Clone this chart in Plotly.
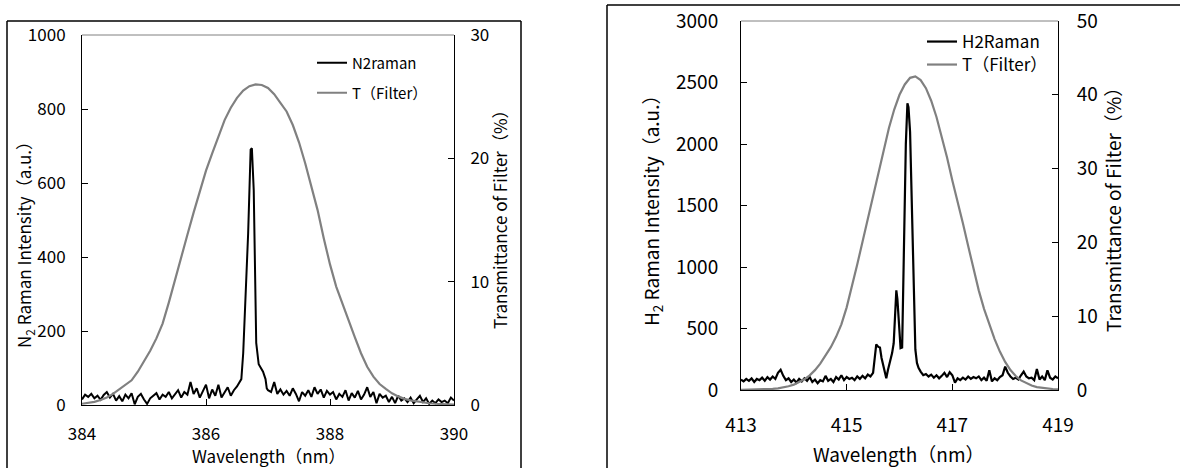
import plotly.graph_objects as go

# ---------------- data: left panel (N2) ----------------
n2_wl = [384.00, 384.05, 384.10, 384.15, 384.20, 384.25, 384.30, 384.35, 384.40, 384.45,
         384.50, 384.55, 384.60, 384.65, 384.70, 384.75, 384.80, 384.85, 384.90, 384.95,
         385.00, 385.05, 385.10, 385.15, 385.20, 385.25, 385.30, 385.35, 385.40, 385.45,
         385.50, 385.55, 385.60, 385.65, 385.70, 385.75, 385.80, 385.85, 385.90, 385.95,
         386.00, 386.05, 386.10, 386.15, 386.20, 386.25, 386.30, 386.35, 386.40, 386.45,
         386.50, 386.54, 386.57, 386.60, 386.64, 386.68, 386.72, 386.74, 386.77, 386.79,
         386.81, 386.85, 386.92, 386.96, 386.98,
         387.00, 387.05, 387.10, 387.15, 387.20, 387.25, 387.30, 387.35, 387.40, 387.45,
         387.50, 387.55, 387.60, 387.65, 387.70, 387.75, 387.80, 387.85, 387.90, 387.95,
         388.00, 388.05, 388.10, 388.15, 388.20, 388.25, 388.30, 388.35, 388.40, 388.45,
         388.50, 388.55, 388.60, 388.65, 388.70, 388.75, 388.80, 388.85, 388.90, 388.95,
         389.00, 389.05, 389.10, 389.15, 389.20, 389.25, 389.30, 389.35, 389.40, 389.45,
         389.50, 389.55, 389.60, 389.65, 389.70, 389.75, 389.80, 389.85, 389.90, 389.95,
         390.00]
n2_int = [15, 28, 22, 30, 18, 25, 14, 27, 35, 20,
          30, 12, 24, 10, 28, 18, 32, 2, 22, 30,
          15, 3, 18, 25, 32, 15, 28, 22, 35, 18,
          30, 40, 20, 35, 28, 62, 30, 45, 20, 38,
          55, 18, 42, 25, 55, 20, 35, 48, 25, 40,
          50, 60, 70, 140, 285, 465, 690, 694, 580, 350,
          168, 110, 90, 70, 45,
          40, 35, 62, 30, 42, 28, 38, 25, 45, 30,
          10, 35, 25, 40, 22, 48, 30, 42, 20, 38,
          28, 35, 15, 30, 22, 40, 12, 32, 20, 38,
          15, 28, 48, 22, 35, 5, 30, 20, 25, 8,
          22, 5, 25, 12, 18, 8, 20, 5, 15, 25,
          8, 18, 3, 12, 5, 15, 8, 12, 5, 20,
          12]

t1_wl = [384.0, 384.1, 384.2, 384.3, 384.4, 384.5, 384.6, 384.7, 384.8, 384.9,
         385.0, 385.1, 385.2, 385.3, 385.4, 385.5, 385.6, 385.7, 385.8, 385.9,
         386.0, 386.1, 386.2, 386.3, 386.4, 386.5, 386.6, 386.7, 386.8, 386.9,
         387.0, 387.1, 387.2, 387.3, 387.4, 387.5, 387.6, 387.7, 387.8, 387.9,
         388.0, 388.1, 388.2, 388.3, 388.4, 388.5, 388.6, 388.7, 388.8, 388.9,
         389.0, 389.1, 389.2, 389.3, 389.4, 389.5, 389.6, 389.7, 389.8, 389.9,
         390.0]
t1_pct = [0.1, 0.15, 0.25, 0.4, 0.6, 0.9, 1.25, 1.6, 2.0, 2.7,
          3.5, 4.4, 5.4, 6.6, 8.3, 10.2, 12.0, 13.8, 15.6, 17.3,
          19.0, 20.4, 21.8, 23.1, 24.1, 24.9, 25.5, 25.85, 26.0, 25.95,
          25.7, 25.2, 24.5, 23.8, 22.7, 21.3, 19.6, 17.7, 15.8, 13.5,
          11.4, 9.6, 8.2, 6.9, 5.5, 4.2, 3.1, 2.3, 1.7, 1.3,
          0.95, 0.7, 0.5, 0.38, 0.28, 0.2, 0.14, 0.1, 0.07, 0.05,
          0.03]

# ---------------- data: right panel (H2) ----------------
h2_wl = [413.00, 413.05, 413.10, 413.15, 413.20, 413.25, 413.30, 413.35, 413.40, 413.45,
         413.50, 413.55, 413.60, 413.65, 413.70, 413.75, 413.80, 413.85, 413.90, 413.95,
         414.00, 414.05, 414.10, 414.15, 414.20, 414.25, 414.30, 414.35, 414.40, 414.45,
         414.50, 414.55, 414.60, 414.65, 414.70, 414.75, 414.80, 414.85, 414.90, 414.95,
         415.00, 415.05, 415.10, 415.15, 415.20, 415.25, 415.30, 415.35, 415.40, 415.45,
         415.50, 415.53, 415.56, 415.60, 415.63, 415.66, 415.69, 415.72, 415.75, 415.78,
         415.82, 415.86, 415.89, 415.92, 415.94, 415.96, 415.99, 416.02, 416.05, 416.08,
         416.10, 416.12, 416.15, 416.17, 416.20, 416.23, 416.26, 416.30, 416.33, 416.36,
         416.40, 416.45,
         416.50, 416.55, 416.60, 416.65, 416.70, 416.75, 416.80, 416.85, 416.90, 416.95,
         417.00, 417.05, 417.10, 417.15, 417.20, 417.25, 417.30, 417.35, 417.40, 417.45,
         417.50, 417.55, 417.60, 417.65, 417.70, 417.75, 417.80, 417.85, 417.90, 417.95,
         418.00, 418.05, 418.10, 418.15, 418.20, 418.25, 418.30, 418.35, 418.40, 418.45,
         418.50, 418.55, 418.60, 418.65, 418.70, 418.75, 418.80, 418.85, 418.90, 418.95,
         419.00]
h2_int = [85, 70, 90, 75, 95, 65, 90, 80, 100, 75,
          105, 85, 110, 90, 140, 165, 115, 80, 95, 65,
          85, 60, 90, 70, 95, 75, 105, 65, 85, 55,
          80, 70, 115, 75, 90, 65, 105, 85, 120, 80,
          105, 90, 100, 80, 110, 90, 115, 95, 125, 110,
          140, 250, 370, 350, 345, 260, 200, 150, 95, 160,
          230, 300, 380, 620, 810, 740, 560, 340, 345, 1100,
          1850, 2000, 2330, 2300, 2100, 1500, 950, 330, 220, 180,
          150, 120,
          130, 110, 125, 100, 120, 95, 115, 140, 105, 145,
          120, 60, 95, 80, 100, 85, 110, 90, 105, 95,
          110, 80, 100, 75, 160, 70, 95, 80, 105, 120,
          190, 140, 110, 90, 100, 85, 120, 150, 110, 95,
          100, 80, 170, 85, 110, 80, 160, 100, 85, 110,
          95]

t2_wl = [413.0, 413.1, 413.2, 413.3, 413.4, 413.5, 413.6, 413.7, 413.8, 413.9,
         414.0, 414.1, 414.2, 414.3, 414.4, 414.5, 414.6, 414.7, 414.8, 414.9,
         415.0, 415.1, 415.2, 415.3, 415.4, 415.5, 415.6, 415.7, 415.8, 415.9,
         416.0, 416.1, 416.2, 416.3, 416.4, 416.5, 416.6, 416.7, 416.8, 416.9,
         417.0, 417.1, 417.2, 417.3, 417.4, 417.5, 417.6, 417.7, 417.8, 417.9,
         418.0, 418.1, 418.2, 418.3, 418.4, 418.5, 418.6, 418.7, 418.8, 418.9,
         419.0]
t2_pct = [0.01, 0.02, 0.03, 0.05, 0.07, 0.1, 0.16, 0.23, 0.35, 0.51,
          0.73, 1.04, 1.45, 1.99, 2.69, 3.58, 4.6, 5.8, 7.2, 8.9,
          11.2, 14.0, 17.0, 20.1, 23.2, 26.4, 29.6, 32.7, 35.5, 38.0,
          40.0, 41.4, 42.3, 42.5, 42.0, 40.9, 39.2, 37.0, 34.4, 31.5,
          28.4, 25.6, 22.6, 19.5, 16.4, 13.5, 11.0, 8.8, 6.9, 5.2,
          3.8, 2.7, 1.9, 1.3, 0.9, 0.6, 0.4, 0.28, 0.2, 0.13,
          0.08]

# ---------------- text ----------------
n2_name = "N2raman"
h2_name = "H2Raman"
t_name = "T（Filter）"
x_title = "Wavelength（nm）"
y_left_title_n2 = "N<sub>2</sub> Raman Intensity（a.u.）"
y_left_title_h2 = "H<sub>2</sub> Raman Intensity（a.u.）"
y_right_title = "Transmittance of Filter（%）"

FONT = "Noto Sans CJK JP"
W, H = 1180, 468


def px(x):
    return x / W


def py(y):
    return 1 - y / H


fig = go.Figure()
fig.add_trace(go.Scatter(x=t1_wl, y=t1_pct, xaxis="x", yaxis="y2", mode="lines",
                         line=dict(color="#808080", width=2.2), name=t_name, legend="legend2"))
fig.add_trace(go.Scatter(x=n2_wl, y=n2_int, xaxis="x", yaxis="y", mode="lines",
                         line=dict(color="black", width=2), name=n2_name, legend="legend"))
fig.add_trace(go.Scatter(x=t2_wl, y=t2_pct, xaxis="x2", yaxis="y4", mode="lines",
                         line=dict(color="#808080", width=2.2), name=t_name, legend="legend4"))
fig.add_trace(go.Scatter(x=h2_wl, y=h2_int, xaxis="x2", yaxis="y3", mode="lines",
                         line=dict(color="black", width=2.2), name=h2_name, legend="legend3"))

axis_common = dict(showgrid=False, zeroline=False, showline=True, linecolor="black",
                   linewidth=1, ticks="inside", ticklen=6, tickcolor="black",
                   tickwidth=1, automargin=False)

L = dict(x0=82, x1=454, y0=35, y1=405, fs=17)
R = dict(x0=741, x1=1058, y0=21, y1=390, fs=19)

fig.update_layout(
    width=W, height=H, margin=dict(l=0, r=0, t=0, b=0, pad=0, autoexpand=False),
    paper_bgcolor="white", plot_bgcolor="white",
    font=dict(family=FONT, color="black"),
    xaxis=dict(domain=[px(L["x0"]), px(L["x1"])], anchor="y", range=[384, 390],
               tick0=384, dtick=2, tickfont=dict(size=L["fs"]), ticklabelstandoff=14,
               **axis_common),
    yaxis=dict(domain=[py(L["y1"]), py(L["y0"])], anchor="x", range=[0, 1000],
               dtick=200, tickfont=dict(size=L["fs"]), ticklabelstandoff=12,
               **axis_common),
    yaxis2=dict(overlaying="y", side="right", anchor="x", range=[0, 30], dtick=10,
                tickfont=dict(size=L["fs"]), ticklabelstandoff=12, **axis_common),
    xaxis2=dict(domain=[px(R["x0"]), px(R["x1"])], anchor="y3", range=[413, 419],
                tick0=413, dtick=2, tickfont=dict(size=R["fs"]), ticklabelstandoff=18,
                **axis_common),
    yaxis3=dict(domain=[py(R["y1"]), py(R["y0"])], anchor="x2", range=[0, 3000],
                dtick=500, tickfont=dict(size=R["fs"]), ticklabelstandoff=18,
                **axis_common),
    yaxis4=dict(overlaying="y3", side="right", anchor="x2", range=[0, 50], dtick=10,
                tickfont=dict(size=R["fs"]), ticklabelstandoff=14, **axis_common),
    showlegend=True,
)

leg_common = dict(bgcolor="rgba(0,0,0,0)", borderwidth=0, xanchor="left",
                  yanchor="middle", itemclick=False, itemdoubleclick=False)
fig.update_layout(
    legend=dict(x=px(312), y=py(63), font=dict(size=15, family=FONT), **leg_common),
    legend2=dict(x=px(312), y=py(93), font=dict(size=15, family=FONT), **leg_common),
    legend3=dict(x=px(922), y=py(42), font=dict(size=17, family=FONT), **leg_common),
    legend4=dict(x=px(922), y=py(65), font=dict(size=17, family=FONT), **leg_common),
)

ann_common = dict(xref="paper", yref="paper", showarrow=False,
                  xanchor="center", yanchor="middle")
ann = [
    dict(text=x_title, x=px(268), y=py(455), font=dict(size=L["fs"]), **ann_common),
    dict(text=y_left_title_n2, x=px(25), y=py(241), textangle=-90,
         font=dict(size=L["fs"]), **ann_common),
    dict(text=y_right_title, x=px(500), y=py(215), textangle=-90,
         font=dict(size=L["fs"]), **ann_common),
    dict(text=x_title, x=px(899), y=py(453), font=dict(size=R["fs"]), **ann_common),
    dict(text=y_left_title_h2, x=px(652), y=py(206), textangle=-90,
         font=dict(size=R["fs"]), **ann_common),
    dict(text=y_right_title, x=px(1112), y=py(205), textangle=-90,
         font=dict(size=R["fs"]), **ann_common),
]
fig.update_layout(annotations=ann)

shapes = []
# plot-area top borders (grey)
shapes.append(dict(type="line", xref="x domain", yref="y domain", x0=0, x1=1, y0=1, y1=1,
                   line=dict(color="#808080", width=1)))
shapes.append(dict(type="line", xref="x2 domain", yref="y3 domain", x0=0, x1=1, y0=1, y1=1,
                   line=dict(color="#808080", width=1)))
# chart frames
fr = dict(color="black", width=1.5)
shapes += [
    dict(type="line", xref="paper", yref="paper", x0=px(7), x1=px(7), y0=py(21), y1=py(470), line=fr),
    dict(type="line", xref="paper", yref="paper", x0=px(7), x1=px(521), y0=py(21), y1=py(21), line=fr),
    dict(type="line", xref="paper", yref="paper", x0=px(521), x1=px(521), y0=py(21), y1=py(470), line=fr),
    dict(type="line", xref="paper", yref="paper", x0=px(607), x1=px(607), y0=py(5), y1=py(470), line=fr),
    dict(type="line", xref="paper", yref="paper", x0=px(607), x1=px(1182), y0=py(5), y1=py(5), line=fr),
]
fig.update_layout(shapes=shapes)

fig.write_html("out.html")
